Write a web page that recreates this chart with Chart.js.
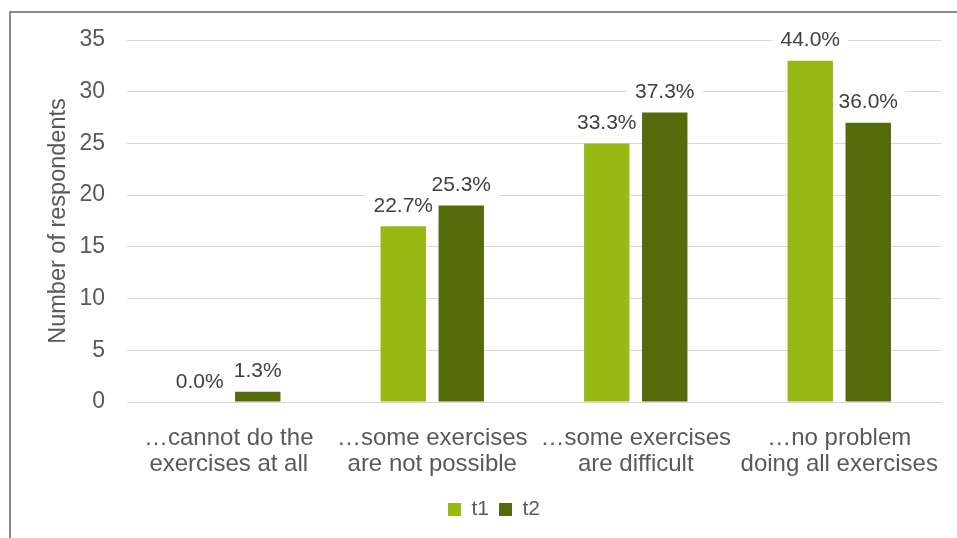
<!DOCTYPE html>
<html>
<head>
<meta charset="utf-8">
<script src="https://cdn.jsdelivr.net/npm/chart.js@4/dist/chart.umd.min.js"></script>
<style>
  html, body { margin: 0; padding: 0; background: #fff; overflow: hidden; width: 957px; height: 538px; }
  #frame { position: absolute; left: 9px; top: 11px; border-left: 2px solid #8c8c8c; border-top: 2px solid #8c8c8c; width: 972px; height: 525px; }
  #chart { display: block; }
</style>
</head>
<body>
<div id="frame"><canvas id="chart" width="972" height="525"></canvas></div>
<script>
// categories (two-line labels)
var categories = [
    ['…cannot do the', 'exercises at all'],
    ['…some exercises', 'are not possible'],
    ['…some exercises', 'are difficult'],
    ['…no problem', 'doing all exercises']
];
var t1Values = [0, 17, 25, 33];
var t2Values = [1, 19, 28, 27];
var t1Labels = ['0.0%', '22.7%', '33.3%', '44.0%'];
var t2Labels = ['1.3%', '25.3%', '37.3%', '36.0%'];
var yMin = 0, yMax = 35, yStep = 5;

var FONT = '"Liberation Sans", Arial, sans-serif';
var labelSets = [t1Labels, t2Labels];

// value labels: white box behind (under the bars), text on top
var barLabels = {
    id: 'barLabels',
    afterLayout: function (chart) {
        // legend sits a bit right of the canvas centre in the original
        var lg = chart.legend;
        if (lg) { lg.left += 18; lg.right += 18; }
    },
    beforeDatasetsDraw: function (chart) {
        var ctx = chart.ctx;
        ctx.save();
        ctx.font = '21px ' + FONT;
        chart.data.datasets.forEach(function (ds, i) {
            chart.getDatasetMeta(i).data.forEach(function (bar, j) {
                var txt = labelSets[i][j];
                var w = ctx.measureText(txt).width;
                ctx.fillStyle = '#ffffff';
                ctx.fillRect(bar.x - w / 2 - 8, bar.y - 34, w + 16, 26);
            });
        });
        ctx.restore();
    },
    afterDatasetsDraw: function (chart) {
        var ctx = chart.ctx;
        ctx.save();
        ctx.font = '21px ' + FONT;
        ctx.fillStyle = '#404040';
        ctx.textAlign = 'center';
        ctx.textBaseline = 'alphabetic';
        chart.data.datasets.forEach(function (ds, i) {
            chart.getDatasetMeta(i).data.forEach(function (bar, j) {
                ctx.fillText(labelSets[i][j], bar.x, bar.y - 14.5);
            });
        });
        ctx.restore();
    }
};

new Chart(document.getElementById('chart'), {
    type: 'bar',
    data: {
        labels: categories,
        datasets: [{
            label: 't1',
            data: t1Values,
            backgroundColor: '#98b914'
        }, {
            label: 't2',
            data: t2Values,
            backgroundColor: '#556b0b'
        }]
    },
    options: {
        responsive: false,
        animation: false,
        events: [],
        datasets: {
            bar: { categoryPercentage: 0.57, barPercentage: 0.783, borderWidth: 0 }
        },
        layout: { padding: { top: 27, right: 42, bottom: 8, left: 0 } },
        scales: {
            x: {
                grid: { display: false, drawTicks: false },
                border: { color: '#d9d9d9', width: 1 },
                ticks: {
                    color: '#595959',
                    font: { family: FONT, size: 24, lineHeight: 1.09 },
                    padding: 23,
                    maxRotation: 0,
                    autoSkip: false
                },
                afterFit: function (scale) { scale.height = 87; }
            },
            y: {
                min: yMin,
                max: yMax,
                grid: { color: '#d9d9d9', lineWidth: 1, drawTicks: false },
                border: { display: false },
                ticks: {
                    stepSize: yStep,
                    color: '#595959',
                    font: { family: FONT, size: 23 },
                    padding: 22
                },
                title: {
                    display: true,
                    text: 'Number of respondents',
                    color: '#595959',
                    font: { family: FONT, size: 23.5 },
                    padding: { top: 33, bottom: 0 }
                },
                afterFit: function (scale) {
                    scale.width = 116;
                    scale.paddingTop = 0;
                    scale.paddingBottom = 0;
                }
            }
        },
        plugins: {
            legend: {
                position: 'bottom',
                labels: {
                    color: '#595959',
                    font: { family: FONT, size: 21 },
                    boxWidth: 13,
                    boxHeight: 13,
                    padding: 10
                }
            },
            tooltip: { enabled: false }
        }
    },
    plugins: [barLabels]
});
</script>
</body>
</html>
